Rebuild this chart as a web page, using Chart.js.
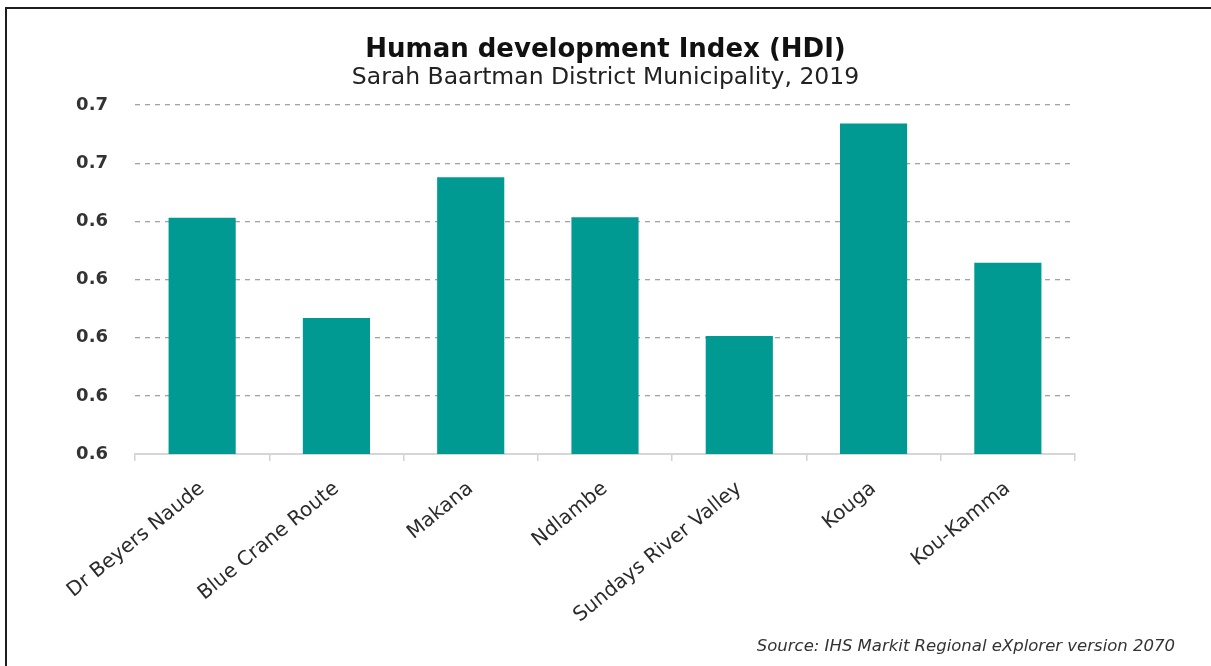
<!DOCTYPE html>
<html>
<head>
<meta charset="utf-8">
<script src="https://cdn.jsdelivr.net/npm/chart.js@4/dist/chart.umd.min.js"></script>
<style>
  html, body { margin: 0; padding: 0; background: #ffffff; overflow: hidden; }
  #wrap { position: relative; width: 1211px; height: 666px; }
  #frame {
    position: absolute; left: 5px; top: 7px; right: -20px; bottom: -20px;
    border-left: 2px solid #1e1e1e; border-top: 2px solid #1e1e1e;
    pointer-events: none;
  }
</style>
</head>
<body>
<div id="wrap">
  <canvas id="hdi" width="1211" height="666"></canvas>
  <div id="frame"></div>
</div>
<script>
// Human Development Index by local municipality, Sarah Baartman District, 2019
const categories = ['Dr Beyers Naude', 'Blue Crane Route', 'Makana', 'Ndlambe',
                    'Sundays River Valley', 'Kouga', 'Kou-Kamma'];
const hdiValues = [0.6406, 0.6234, 0.6476, 0.6407, 0.6203, 0.6568, 0.6329];
// value axis runs 0.60 .. 0.66 in steps of 0.01, labelled to one decimal
const yTickLabels = ['0.6', '0.6', '0.6', '0.6', '0.6', '0.7', '0.7'];
const titleText = 'Human development Index (HDI)';
const subtitleText = 'Sarah Baartman District Municipality, 2019';
const sourceText = 'Source: IHS Markit Regional eXplorer version 2070';

const barColor = '#009a93';
const textColor = '#2b2b2b';

const sourceNote = {
  id: 'sourceNote',
  afterDraw(chart) {
    const ctx = chart.ctx;
    ctx.save();
    ctx.font = 'italic 16.5px "DejaVu Sans"';
    ctx.fillStyle = '#333333';
    ctx.textAlign = 'right';
    ctx.textBaseline = 'alphabetic';
    ctx.fillText(sourceText, 1175, 651);
    ctx.restore();
  }
};

new Chart(document.getElementById('hdi'), {
  type: 'bar',
  data: {
    labels: categories,
    datasets: [{
      label: 'HDI',
      data: hdiValues,
      backgroundColor: barColor,
      borderWidth: 0,
      barPercentage: 0.5,
      categoryPercentage: 1.0
    }]
  },
  options: {
    responsive: false,
    animation: false,
    layout: { padding: { left: 0, right: 0, top: 0, bottom: 0 } },
    plugins: {
      legend: { display: false },
      tooltip: { enabled: false },
      title: {
        display: true,
        text: titleText,
        color: '#111111',
        font: { family: 'DejaVu Sans', size: 26, weight: 'bold', lineHeight: 1.0 },
        padding: { top: 37.5, bottom: 0 }
      },
      subtitle: {
        display: true,
        text: subtitleText,
        color: '#222222',
        font: { family: 'DejaVu Sans', size: 23.5, weight: 'normal', lineHeight: 1.0 },
        padding: { top: 3, bottom: 15 }
      }
    },
    scales: {
      x: {
        offset: true,
        grid: {
          display: true,
          drawOnChartArea: false,
          drawTicks: true,
          tickLength: 7,
          color: '#d2d2d2',
          lineWidth: 1.5
        },
        border: { display: true, color: '#d6d6d6', width: 2 },
        ticks: {
          autoSkip: false,
          minRotation: 39,
          maxRotation: 39,
          padding: 16,
          color: textColor,
          font: { family: 'DejaVu Sans', size: 20 }
        },
        afterFit(scale) { scale.height = 212; }
      },
      y: {
        position: 'left',
        min: 0.60,
        max: 0.66,
        ticks: {
          stepSize: 0.01,
          padding: 27,
          color: '#333333',
          font: { family: 'DejaVu Sans', size: 18, weight: 'bold' },
          callback: (value, index) => yTickLabels[index]
        },
        grid: {
          drawTicks: false,
          lineWidth: 1.3,
          color: ctx => (ctx.index === 0 ? 'rgba(0,0,0,0)' : '#a3a3a3')
        },
        border: { display: false, dash: [5, 5] },
        afterFit(scale) { scale.width = 135; }
      },
      yRight: {
        position: 'right',
        display: true,
        grid: { display: false, drawTicks: false },
        border: { display: false },
        ticks: { display: false },
        afterFit(scale) { scale.width = 136; }
      }
    }
  },
  plugins: [sourceNote]
});
</script>
</body>
</html>
